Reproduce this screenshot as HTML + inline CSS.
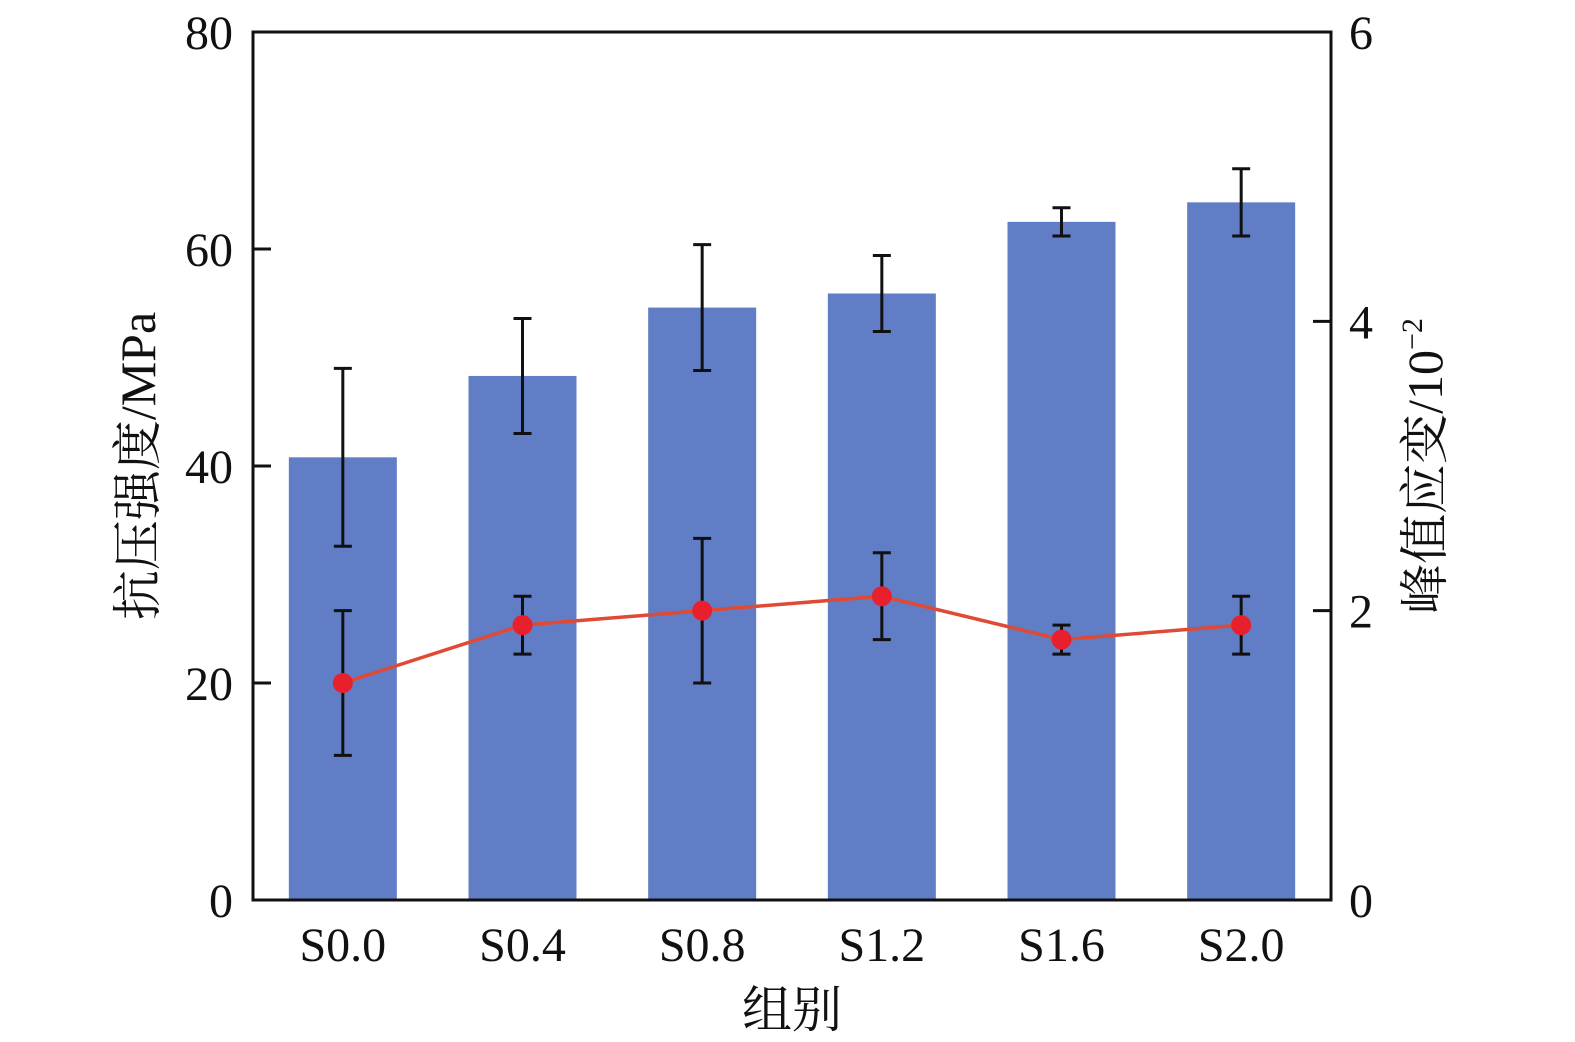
<!DOCTYPE html>
<html><head><meta charset="utf-8"><style>
html,body{margin:0;padding:0;background:#fff;}
svg{display:block;}
</style></head><body>
<svg id="chart" width="1575" height="1042" viewBox="0 0 1575 1042" xmlns="http://www.w3.org/2000/svg"></svg>
<script>
const categories=["S0.0","S0.4","S0.8","S1.2","S1.6","S2.0"];
const strengthValues=[40.8,48.3,54.6,55.9,62.5,64.3];
const strengthErrors=[8.2,5.3,5.8,3.5,1.3,3.1];
const strainValues=[1.5,1.9,2.0,2.1,1.8,1.9];
const strainErrors=[0.5,0.2,0.5,0.3,0.1,0.2];
const leftTicks=[0,20,40,60,80];
const rightTicks=[0,2,4,6];

const FONT='"Liberation Serif", "Noto Serif CJK SC", serif';
const L=253,R=1331,T=32,B=900;
const svg=document.getElementById('chart');
const NS="http://www.w3.org/2000/svg";
function mk(tag,attrs,parent){const e=document.createElementNS(NS,tag);for(const k in attrs)e.setAttribute(k,attrs[k]);(parent||svg).appendChild(e);return e;}
function txt(attrs){const e=mk('text',attrs);e.style.fontFamily=FONT;e.setAttribute('fill','#111');return e;}
const band=(R-L)/categories.length;
const xc=i=>L+band*(i+0.5);
const yL=v=>B-(v/80)*(B-T);
const yR=v=>B-(v/6)*(B-T);

strengthValues.forEach((v,i)=>{
  const b=mk('rect',{x:xc(i)-54,y:yL(v),width:108,height:B-yL(v),fill:'#617dc6'});
  
  
});
function errbar(x,y1,y2,name){
  const g=mk('g',{stroke:'#111','stroke-width':3});
  
  
  mk('line',{x1:x,x2:x,y1:y1,y2:y2},g);
  mk('line',{x1:x-9,x2:x+9,y1:y1,y2:y1},g);
  mk('line',{x1:x-9,x2:x+9,y1:y2,y2:y2},g);
}
strengthValues.forEach((v,i)=>errbar(xc(i),yL(v+strengthErrors[i]),yL(v-strengthErrors[i]),'strength-error-'+categories[i]));
const pts=strainValues.map((v,i)=>xc(i)+','+yR(v)).join(' ');
const pl=mk('polyline',{points:pts,fill:'none',stroke:'#e04a35','stroke-width':3.5});


strainValues.forEach((v,i)=>errbar(xc(i),yR(v+strainErrors[i]),yR(v-strainErrors[i]),'strain-error-'+categories[i]));
strainValues.forEach((v,i)=>{
  const c=mk('circle',{cx:xc(i),cy:yR(v),r:10,fill:'#e8202d'});
  
  
});
const fr=mk('rect',{x:L,y:T,width:R-L,height:B-T,fill:'none',stroke:'#111','stroke-width':3});


leftTicks.forEach(v=>{
  mk('line',{x1:L,x2:L+18,y1:yL(v),y2:yL(v),stroke:'#111','stroke-width':3});
  const t=txt({x:L-20,y:yL(v)+17,'font-size':48,'text-anchor':'end'});t.textContent=v;
  
  
});
rightTicks.forEach(v=>{
  mk('line',{x1:R-18,x2:R,y1:yR(v),y2:yR(v),stroke:'#111','stroke-width':3});
  const t=txt({x:R+18,y:yR(v)+17,'font-size':48,'text-anchor':'start'});t.textContent=v;
  
  
});
categories.forEach((c,i)=>{
  const t=txt({x:xc(i),y:961,'font-size':48,'text-anchor':'middle'});t.textContent=c;
  
  
});
const xt=txt({x:792,y:1027,'font-size':50,'text-anchor':'middle'});xt.textContent='组别';


const yt=txt({x:0,y:0,'font-size':50,'text-anchor':'middle',transform:'translate(155,466) rotate(-90)'});yt.textContent='抗压强度/MPa';


const yt2=txt({x:0,y:0,'font-size':50,'text-anchor':'middle',transform:'translate(1442,466) rotate(-90)'});
yt2.innerHTML='峰值应变/10<tspan dy="-20" font-size="30">−2</tspan>';


</script>
</body></html>
